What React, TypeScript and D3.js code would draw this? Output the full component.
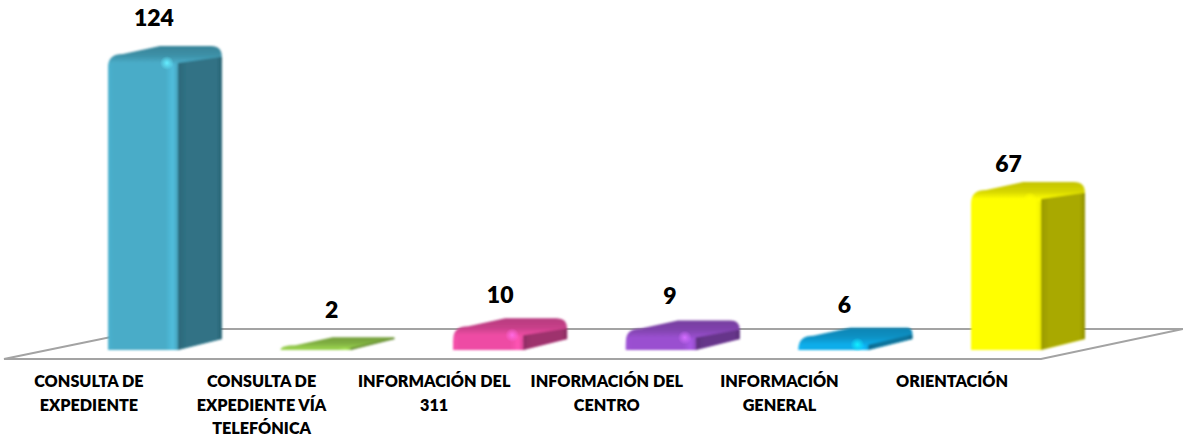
import React, { useRef, useEffect } from "react";
import { select, scaleBand, scaleLinear, path, rgb } from "d3";

const categories = [
  "CONSULTA DE EXPEDIENTE",
  "CONSULTA DE EXPEDIENTE VÍA TELEFÓNICA",
  "INFORMACIÓN DEL 311",
  "INFORMACIÓN DEL CENTRO",
  "INFORMACIÓN GENERAL",
  "ORIENTACIÓN",
];
const labelLines = [
  ["CONSULTA DE", "EXPEDIENTE"],
  ["CONSULTA DE", "EXPEDIENTE VÍA", "TELEFÓNICA"],
  ["INFORMACIÓN DEL", "311"],
  ["INFORMACIÓN DEL", "CENTRO"],
  ["INFORMACIÓN", "GENERAL"],
  ["ORIENTACIÓN"],
];
const values = [124, 2, 10, 9, 6, 67];
const colors = ["#49acc8", "#98d04e", "#ee4ca4", "#9a50d0", "#0cadea", "#ffff00"];

const width = 1183;
const height = 441;
const baseY = 350;
// ajuste manual de las etiquetas de valor
const nudgeX = [11, 16, 12, 9, 11, 2.5];
const nudgeY = [-1, 0, 4, 2, 4, 9];

const App: React.FC = () => {
  const svgRef = useRef<SVGSVGElement>(null);

  useEffect(() => {
    const svg = select(svgRef.current);
    svg.selectAll("*").remove();

    const xScale = scaleBand<string>()
      .domain(categories)
      .range([108, 1041])
      .paddingInner(0.595)
      .paddingOuter(0);
    const yScale = scaleLinear().domain([0, 124]).range([baseY, 54]);

    const defs = svg.append("defs");
    defs
      .append("filter")
      .attr("id", "soft")
      .append("feGaussianBlur")
      .attr("stdDeviation", 0.8);

    colors.forEach((c, i) => {
      const base = rgb(c);
      const front = defs
        .append("linearGradient")
        .attr("id", `front${i}`)
        .attr("x1", 0)
        .attr("x2", 1);
      [
        [0, base.brighter(0.1)],
        [0.08, base],
        [0.82, base],
        [0.93, base.brighter(0.28)],
        [1, base.darker(0.2)],
      ].forEach(([o, col]) =>
        front.append("stop").attr("offset", o as number).attr("stop-color", String(col))
      );
      const side = defs
        .append("linearGradient")
        .attr("id", `side${i}`)
        .attr("x1", 0)
        .attr("x2", 1);
      [
        [0, base.darker(1.4)],
        [0.2, base.darker(1.15)],
        [0.88, base.darker(1.15)],
        [1, base.darker(1.6)],
      ].forEach(([o, col]) =>
        side.append("stop").attr("offset", o as number).attr("stop-color", String(col))
      );
      const topY = yScale(values[i]);
      const top = defs
        .append("linearGradient")
        .attr("id", `top${i}`)
        .attr("gradientUnits", "userSpaceOnUse")
        .attr("x1", 0)
        .attr("x2", 0)
        .attr("y1", topY - 8)
        .attr("y2", Math.min(topY + 9, baseY - 2));
      top.append("stop").attr("offset", 0).attr("stop-color", String(base.darker(0.75)));
      top.append("stop").attr("offset", 0.55).attr("stop-color", String(base.darker(0.5)));
      top.append("stop").attr("offset", 1).attr("stop-color", String(base));
      const spot = defs.append("radialGradient").attr("id", `spot${i}`);
      spot.append("stop").attr("offset", 0).attr("stop-color", String(base.brighter(0.9)));
      spot
        .append("stop")
        .attr("offset", 1)
        .attr("stop-color", String(base.brighter(0.9)))
        .attr("stop-opacity", 0);
    });

    // piso
    const floor = path();
    floor.moveTo(4, 359);
    floor.lineTo(1041, 359);
    floor.lineTo(1183, 329);
    floor.lineTo(150, 329);
    floor.closePath();
    svg
      .append("path")
      .attr("d", floor.toString())
      .attr("fill", "none")
      .attr("stroke", "#a3a3a3")
      .attr("stroke-width", 2);

    // barras
    categories.forEach((cat, i) => {
      const x0 = xScale(cat)!;
      const w = xScale.bandwidth();
      const x1 = x0 + w;
      const xr = x1 + 44;
      const topY = yScale(values[i]);
      const backY = topY - 8;
      const innerY = Math.min(topY + 9, baseY - 2);
      const sideBottom = baseY - 11;
      const r = Math.min(13, baseY - topY);
      const rr = Math.max(1, Math.min(11, (sideBottom - backY) / 2));
      const g = svg.append("g").attr("filter", "url(#soft)");

      const shape = path();
      shape.moveTo(x0, baseY);
      shape.lineTo(x0, topY + r);
      shape.quadraticCurveTo(x0, topY, x0 + 15, topY);
      shape.lineTo(x0 + 52, backY);
      shape.lineTo(xr - rr, backY);
      shape.quadraticCurveTo(xr, backY, xr, backY + rr);
      shape.lineTo(xr, sideBottom);
      shape.lineTo(x1, baseY);
      shape.closePath();
      g.append("path").attr("d", shape.toString()).attr("fill", `url(#top${i})`);

      const sideTop = Math.max(innerY - 10, backY + rr);
      const side = path();
      side.moveTo(x1, innerY);
      side.lineTo(xr - 1, sideTop);
      side.lineTo(xr, sideTop);
      side.lineTo(xr, sideBottom);
      side.lineTo(x1, baseY);
      side.closePath();
      g.append("path").attr("d", side.toString()).attr("fill", `url(#side${i})`);

      const fr = Math.min(7, baseY - innerY);
      const front = path();
      front.moveTo(x0, baseY);
      front.lineTo(x0, innerY + fr);
      front.quadraticCurveTo(x0, innerY, x0 + fr, innerY);
      front.lineTo(x1 - fr, innerY);
      front.quadraticCurveTo(x1, innerY, x1, innerY + fr);
      front.lineTo(x1, baseY);
      front.closePath();
      g.append("path").attr("d", front.toString()).attr("fill", `url(#front${i})`);

      if (values[i] > 2) {
        svg
          .append("circle")
          .attr("cx", x1 - 11)
          .attr("cy", innerY)
          .attr("r", 7)
          .attr("fill", `url(#spot${i})`);
      }

      // etiqueta de valor
      svg
        .append("text")
        .attr("x", x0 + w / 2 + nudgeX[i])
        .attr("y", backY - 19 + nudgeY[i])
        .attr("text-anchor", "middle")
        .attr("font-family", "Lato, 'Open Sans', sans-serif")
        .attr("font-weight", 800)
        .attr("font-size", 23)
        .attr("fill", "#000")
        .text(values[i]);

      // etiqueta de categoría
      labelLines[i].forEach((t, j) => {
        svg
          .append("text")
          .attr("x", x0 + w / 2 - 54)
          .attr("y", 387 + j * 23.5)
          .attr("text-anchor", "middle")
          .attr("font-family", "Lato, 'Open Sans', sans-serif")
          .attr("font-weight", 800)
          .attr("font-size", 16.2)
          .attr("fill", "#000")
          .text(t);
      });
    });
  }, []);

  return (
    <svg
      ref={svgRef}
      width={width}
      height={height}
      viewBox={`0 0 ${width} ${height}`}
      style={{ position: "absolute", left: 0, top: 0, background: "#fff" }}
    />
  );
};

export default App;
